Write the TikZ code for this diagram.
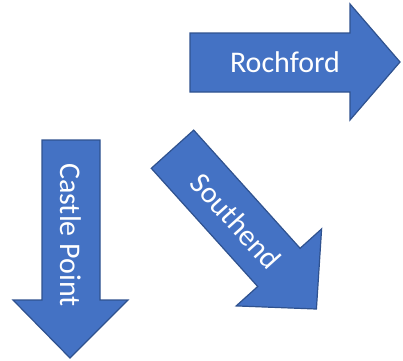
\documentclass[tikz,border=0pt]{standalone}
\usepackage{fontspec}
\setmainfont{Carlito}
\definecolor{arrowfill}{HTML}{4472C4}
\definecolor{arrowline}{HTML}{2F528F}
\begin{document}
\begin{tikzpicture}[x=1pt,y=-1pt,
  blockarrow/.style={fill=arrowfill,draw=arrowline,line width=1.2pt,line join=miter},
  label/.style={text=white,font=\fontsize{30}{36}\selectfont,inner sep=0pt}]
\useasboundingbox (0,0) rectangle (403,360);
% Rochford
\draw[blockarrow] (190,33) -- (350,33) -- (350,4) -- (400,62) -- (350,120) -- (350,92) -- (190,92) -- cycle;
\node[label] (rochford) at (285,62) {Rochford};
% Castle Point
\draw[blockarrow] (42,140) -- (100,140) -- (100,300) -- (128,300) -- (70,358) -- (13,300) -- (42,300) -- cycle;
\node[label,rotate=-90] (castle) at (71,235) {Castle Point};
% Southend
\draw[blockarrow] (193.7,130.1) -- (300.1,248.3) -- (321.6,228.9) -- (316.4,309.0) -- (236.2,305.9) -- (257.7,286.5) -- (151.3,168.3) -- cycle;
\node[label,rotate=-48] (southend) at (236,221) {Southend};
\end{tikzpicture}
\end{document}
